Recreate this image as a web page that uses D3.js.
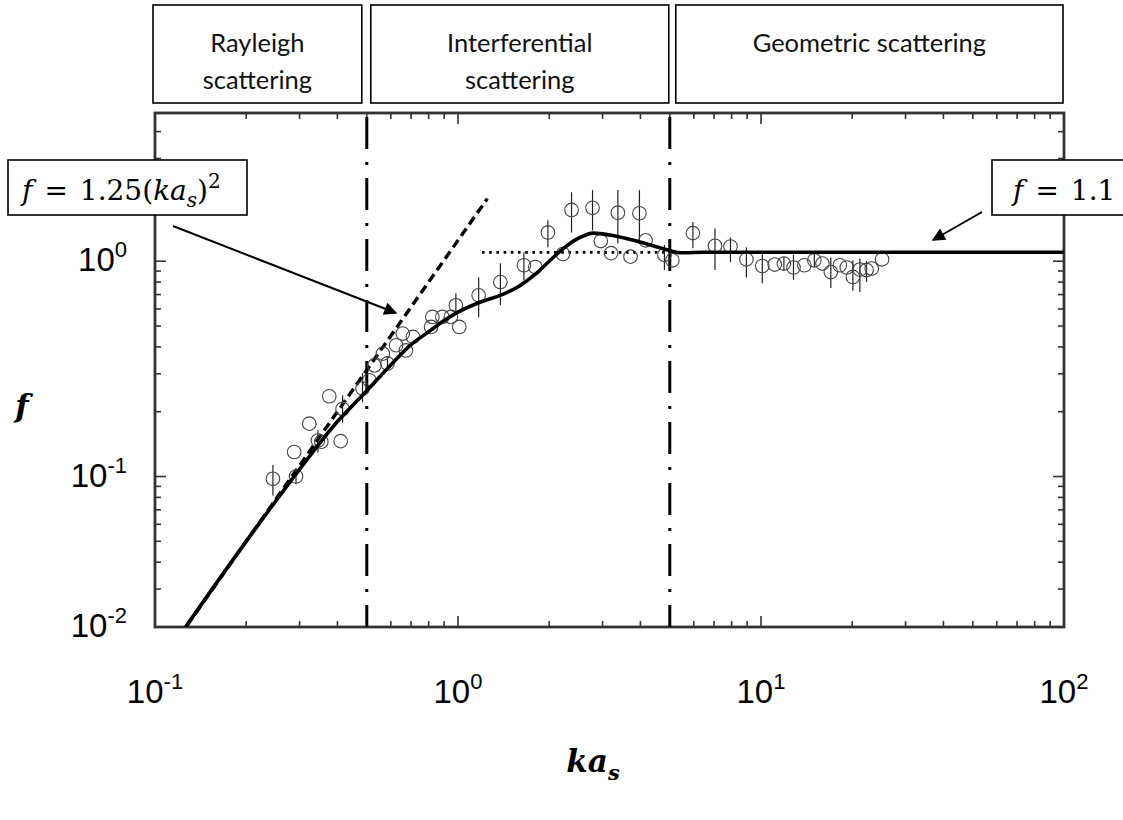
<!DOCTYPE html>
<html>
<head>
<meta charset="utf-8">
<script src="https://cdn.jsdelivr.net/npm/d3@7"></script>
<style>
  body { margin: 0; background: #fff; }
  svg { display: block; }
</style>
</head>
<body>
<svg id="chart" width="1123" height="820"></svg>
<script>
// ---- data ----------------------------------------------------------------
// measured scattering factor f against ka_s, with error-bar bounds
const kaMeasured = [0.245, 0.288, 0.292, 0.323, 0.345, 0.354, 0.376, 0.41, 0.416, 0.484,
  0.51, 0.53, 0.565, 0.585, 0.625, 0.673, 0.657, 0.71, 0.815, 0.823,
  0.888, 0.947, 0.984, 1.01, 1.17, 1.38, 1.65, 1.8, 1.98, 2.22,
  2.37, 2.78, 2.96, 3.2, 3.37, 3.71, 3.97, 4.16, 4.8, 5.1,
  5.96, 7.05, 7.93, 8.95, 10.1, 11.1, 11.9, 12.8, 13.9, 15.0,
  15.95, 17.0, 18.2, 19.2, 20.1, 21.2, 22.3, 23.2, 25.1];
const fMeasured = [0.0976, 0.130, 0.100, 0.176, 0.147, 0.145, 0.236, 0.146, 0.206, 0.256,
  0.28, 0.328, 0.372, 0.335, 0.407, 0.385, 0.461, 0.445, 0.495, 0.551,
  0.551, 0.551, 0.624, 0.495, 0.695, 0.80, 0.958, 0.94, 1.36, 1.08,
  1.73, 1.77, 1.24, 1.09, 1.68, 1.05, 1.67, 1.25, 1.07, 1.01,
  1.35, 1.18, 1.17, 1.02, 0.95, 0.965, 0.975, 0.935, 0.958, 1.01,
  0.975, 0.89, 0.958, 0.935, 0.845, 0.915, 0.91, 0.924, 1.02];
const fLower = [0.0817, 0.130, 0.092, 0.176, 0.129, 0.145, 0.236, 0.146, 0.178, 0.221,
  0.28, 0.328, 0.372, 0.31, 0.407, 0.385, 0.461, 0.445, 0.495, 0.551,
  0.551, 0.551, 0.57, 0.495, 0.549, 0.624, 0.816, 0.94, 1.16, 1.08,
  1.36, 1.39, 1.24, 1.09, 1.21, 1.05, 1.25, 1.25, 0.91, 1.01,
  1.15, 0.91, 0.99, 0.84, 0.79, 0.965, 0.90, 0.82, 0.958, 0.94,
  0.975, 0.75, 0.958, 0.935, 0.73, 0.72, 0.80, 0.924, 1.02];
const fUpper = [0.113, 0.130, 0.108, 0.176, 0.164, 0.145, 0.236, 0.146, 0.238, 0.302,
  0.28, 0.328, 0.372, 0.36, 0.407, 0.385, 0.461, 0.445, 0.495, 0.551,
  0.551, 0.551, 0.71, 0.495, 0.843, 0.979, 1.10, 0.94, 1.55, 1.08,
  2.09, 2.14, 1.24, 1.09, 2.14, 1.05, 2.14, 1.25, 1.19, 1.01,
  1.52, 1.42, 1.29, 1.16, 1.10, 0.965, 1.05, 1.07, 0.958, 1.08,
  0.975, 1.04, 0.958, 0.935, 1.01, 1.03, 1.00, 0.924, 1.02];

// fitted model curve
const kaModel = [0.1, 0.2, 0.3, 0.4, 0.5, 0.6, 0.7, 0.8, 0.9, 1.0, 1.2, 1.4, 1.6, 1.8,
  2.0, 2.2, 2.5, 2.8, 3.2, 3.8, 4.4, 5.0, 5.5, 6.5, 100];
const fModel = [0.0125, 0.05, 0.108, 0.18, 0.25, 0.33, 0.41, 0.47, 0.53, 0.58, 0.65, 0.70,
  0.77, 0.87, 1.0, 1.13, 1.28, 1.35, 1.32, 1.25, 1.18, 1.12, 1.095, 1.1, 1.1];

// Rayleigh asymptote f = 1.25 (ka)^2 and geometric limit f = 1.1
const rayleighCoef = 1.25;
const rayleighRange = [0.1, 1.25];
const geometricLevel = 1.1;
const geometricRange = [1.2, 100];

// regime boundaries and names
const regimeBounds = [0.1, 0.5, 5, 100];
const regimeNames = [["Rayleigh", "scattering"], ["Interferential", "scattering"], ["Geometric scattering"]];

// axis tick labels (exponents of ten)
const xDecades = [-1, 0, 1, 2];
const yDecades = [0, -1, -2];

// ---- layout --------------------------------------------------------------
const svg = d3.select("#chart");
const plot = { left: 155, right: 1064, top: 113, bottom: 627 };

const x = d3.scaleLog().domain([0.1, 100]).range([plot.left, plot.right]);
const y = d3.scaleLog().domain([0.02, 4.88]).range([plot.bottom, plot.top]);

const ink = "#000";
const frameInk = "#333";
const tickFont = "'Liberation Sans', Arial, sans-serif";
const mathFont = "'DejaVu Serif', serif";

svg.append("defs").append("clipPath").attr("id", "plotClip")
  .append("rect").attr("x", plot.left).attr("y", plot.top)
  .attr("width", plot.right - plot.left).attr("height", plot.bottom - plot.top);

// ---- regime boxes on top ---------------------------------------------------
const boxGapL = [-2, 4, 6];
const boxGapR = [-5, -1, -1];
regimeNames.forEach((lines, i) => {
  const x0 = x(regimeBounds[i]) + boxGapL[i];
  const x1 = x(regimeBounds[i + 1]) + boxGapR[i];
  svg.append("rect").attr("x", x0).attr("y", 5).attr("width", x1 - x0).attr("height", 98)
    .attr("fill", "#fff").attr("stroke", ink).attr("stroke-width", 1.6);
  const t = svg.append("text").attr("text-anchor", "middle")
    .attr("font-family", "Lato, 'Open Sans', sans-serif").attr("font-size", 25.5).attr("fill", "#111");
  lines.forEach((ln, j) => {
    t.append("tspan").attr("x", (x0 + x1) / 2).attr("y", 52 + j * 37).text(ln);
  });
});

// ---- frame and ticks -------------------------------------------------------
function logTicks(domain) {
  const out = [];
  for (let e = Math.floor(Math.log10(domain[0])); e <= Math.ceil(Math.log10(domain[1])); e++) {
    for (let m = 1; m <= 9; m++) {
      const v = m * Math.pow(10, e);
      if (v >= domain[0] * 0.999 && v <= domain[1] * 1.001) out.push({ v, major: m === 1 });
    }
  }
  return out;
}

const tk = svg.append("g").attr("stroke", frameInk).attr("stroke-width", 1.6);
logTicks(x.domain()).forEach(d => {
  const len = d.major ? 11 : 6;
  tk.append("line").attr("x1", x(d.v)).attr("x2", x(d.v)).attr("y1", plot.bottom).attr("y2", plot.bottom - len);
  tk.append("line").attr("x1", x(d.v)).attr("x2", x(d.v)).attr("y1", plot.top).attr("y2", plot.top + len);
});
logTicks(y.domain()).forEach(d => {
  const len = d.major ? 11 : 6;
  tk.append("line").attr("y1", y(d.v)).attr("y2", y(d.v)).attr("x1", plot.left).attr("x2", plot.left + len);
  tk.append("line").attr("y1", y(d.v)).attr("y2", y(d.v)).attr("x1", plot.right).attr("x2", plot.right - len);
});

svg.append("rect").attr("x", plot.left).attr("y", plot.top)
  .attr("width", plot.right - plot.left).attr("height", plot.bottom - plot.top)
  .attr("fill", "none").attr("stroke", frameInk).attr("stroke-width", 2.8);

// x tick labels
xDecades.forEach(e => {
  const t = svg.append("text").attr("x", x(Math.pow(10, e))).attr("y", 703)
    .attr("text-anchor", "middle").attr("font-family", tickFont)
    .attr("font-size", 33).attr("fill", ink);
  t.append("tspan").text("10");
  t.append("tspan").attr("dy", -14).attr("font-size", 22).text(e);
});

// y tick labels (lowest one sits at the axis floor)
yDecades.forEach(e => {
  const v = Math.pow(10, e);
  const yy = v >= y.domain()[0] ? y(v) : plot.bottom;
  const t = svg.append("text").attr("x", 127).attr("y", yy + 10)
    .attr("text-anchor", "end").attr("font-family", tickFont)
    .attr("font-size", 33).attr("fill", ink);
  t.append("tspan").text("10");
  t.append("tspan").attr("dy", -14).attr("font-size", 22).text(e);
});

// axis titles
svg.append("text").attr("x", 593).attr("y", 772).attr("text-anchor", "middle")
  .attr("font-family", mathFont).attr("font-weight", "bold").attr("font-style", "italic")
  .attr("font-size", 31).attr("fill", ink)
  .call(t => {
    t.append("tspan").text("ka");
    t.append("tspan").attr("dy", 8).attr("font-size", 21).text("s");
  });
svg.append("text").attr("x", 22).attr("y", 417).attr("text-anchor", "middle")
  .attr("font-family", mathFont).attr("font-weight", "bold").attr("font-style", "italic")
  .attr("font-size", 31).attr("fill", ink).text("f");

// ---- plot contents ---------------------------------------------------------
const inner = svg.append("g").attr("clip-path", "url(#plotClip)");

// regime boundaries (dash-dot)
[regimeBounds[1], regimeBounds[2]].forEach(v => {
  inner.append("line").attr("x1", x(v)).attr("x2", x(v)).attr("y1", plot.top + 4).attr("y2", plot.bottom)
    .attr("stroke", ink).attr("stroke-width", 3).attr("stroke-dasharray", "32,13,3,13");
});

const line = d3.line().x(d => x(d[0])).y(d => y(d[1]));

// Rayleigh asymptote
const rayleighKa = d3.range(0, 41).map(i => rayleighRange[0] * Math.pow(rayleighRange[1] / rayleighRange[0], i / 40));
inner.append("path").datum(rayleighKa.map(k => [k, rayleighCoef * k * k]))
  .attr("d", line).attr("fill", "none").attr("stroke", ink).attr("stroke-width", 3.4)
  .attr("stroke-dasharray", "9,5");

// geometric limit (dotted)
inner.append("path").datum(geometricRange.map(k => [k, geometricLevel]))
  .attr("d", line).attr("fill", "none").attr("stroke", ink).attr("stroke-width", 2.8)
  .attr("stroke-dasharray", "2.6,4.6");

// error bars
const meas = kaMeasured.map((k, i) => ({ k, f: fMeasured[i], lo: fLower[i], hi: fUpper[i] }));
inner.append("g").selectAll("line").data(meas.filter(d => d.hi > d.lo)).join("line")
  .attr("x1", d => x(d.k)).attr("x2", d => x(d.k))
  .attr("y1", d => y(d.lo)).attr("y2", d => y(d.hi))
  .attr("stroke", "#222").attr("stroke-width", 1.2);

// measured points
inner.append("g").selectAll("circle").data(meas).join("circle")
  .attr("cx", d => x(d.k)).attr("cy", d => y(d.f)).attr("r", 6.8)
  .attr("fill", "none").attr("stroke", "#444").attr("stroke-width", 1.1);

// model curve
const curve = d3.line().x(d => x(d[0])).y(d => y(d[1])).curve(d3.curveMonotoneX);
inner.append("path").datum(kaModel.map((k, i) => [k, fModel[i]]))
  .attr("d", curve).attr("fill", "none").attr("stroke", ink).attr("stroke-width", 3.6);

// ---- annotation callouts ---------------------------------------------------
svg.append("defs").append("marker").attr("id", "head").attr("viewBox", "0 0 10 10")
  .attr("refX", 9).attr("refY", 5).attr("markerWidth", 7.5).attr("markerHeight", 6.5)
  .attr("markerUnits", "strokeWidth").attr("orient", "auto")
  .append("path").attr("d", "M0,0 L10,5 L0,10 Z").attr("fill", ink);

function formulaBox(x0, x1, parts, tx) {
  svg.append("rect").attr("x", x0).attr("y", 160).attr("width", x1 - x0).attr("height", 55)
    .attr("fill", "#fff").attr("stroke", ink).attr("stroke-width", 1.6);
  const t = svg.append("text").attr("x", tx).attr("y", 200)
    .attr("font-family", mathFont).attr("font-size", 28).attr("fill", ink);
  parts.forEach(p => {
    const s = t.append("tspan").text(p.t);
    if (p.i) s.attr("font-style", "italic");
    if (p.dx) s.attr("dx", p.dx);
    if (p.dy) s.attr("dy", p.dy);
    if (p.fs) s.attr("font-size", p.fs);
  });
}

formulaBox(8, 247, [
  { t: "f", i: true }, { t: "=", dx: 12 }, { t: "1.25(", dx: 12 }, { t: "ka", i: true },
  { t: "s", i: true, dy: 7, fs: 20 }, { t: ")", dy: -7 }, { t: "2", dy: -12, fs: 20 }
], 22);
formulaBox(992, 1130, [{ t: "f", i: true }, { t: "=", dx: 12 }, { t: "1.1", dx: 12 }], 1013);

svg.append("line").attr("x1", 173).attr("y1", 226).attr("x2", 396).attr("y2", 313)
  .attr("stroke", ink).attr("stroke-width", 2).attr("marker-end", "url(#head)");
svg.append("line").attr("x1", 982).attr("y1", 212).attr("x2", 933).attr("y2", 240)
  .attr("stroke", ink).attr("stroke-width", 2).attr("marker-end", "url(#head)");
</script>
</body>
</html>
